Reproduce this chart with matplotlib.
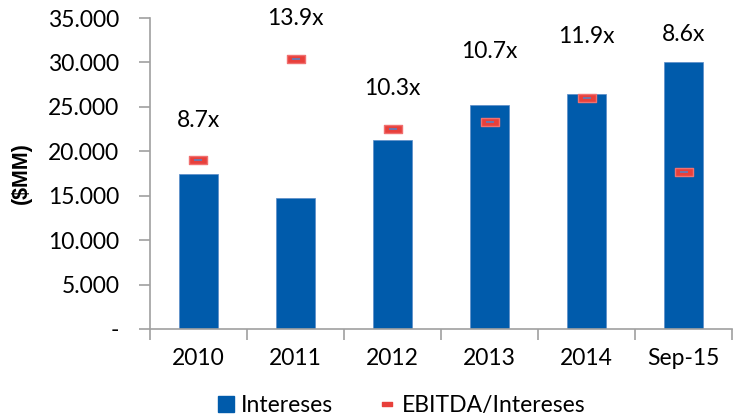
import numpy as np
import matplotlib.pyplot as plt
from matplotlib.ticker import FuncFormatter
from matplotlib.path import Path

plt.rcParams['font.family'] = ['Lato', 'DejaVu Sans']

periods = ['2010', '2011', '2012', '2013', '2014', 'Sep-15']
intereses = [17440, 14740, 21270, 25200, 26450, 30050]
ebitda_ratio = [8.7, 13.9, 10.3, 10.65, 11.9, 8.08]
ratio_labels = ['8.7x', '13.9x', '10.3x', '10.7x', '11.9x', '8.6x']
label_y = [23500, 35000, 27100, 31200, 32900, 33100]

bar_color = '#005BAB'
red = '#E8403B'
fs = 16.5

fig = plt.figure(figsize=(7.37, 4.2), dpi=100)
ax = fig.add_axes([0.2035, 0.2167, 0.79, 0.7403])
x = np.arange(len(periods))

ax.bar(x, intereses, width=0.4, color=bar_color, edgecolor='#5A8CC8', linewidth=0.5,
       label='Intereses', zorder=2)
ax.set_xlim(-0.5, len(periods) - 0.5)
ax.set_ylim(0, 35000)
ax.set_yticks(np.arange(0, 35001, 5000))
ax.yaxis.set_major_formatter(FuncFormatter(
    lambda v, p: '-' if v == 0 else f'{int(v):,}'.replace(',', '.')))
ax.set_xticks(x)
ax.set_xticklabels(periods)
ax.set_xticks(np.arange(-0.5, len(periods), 1), minor=True)
ax.tick_params(axis='x', which='major', length=0, pad=14, labelsize=fs)
ax.tick_params(axis='x', which='minor', length=8, color='#A0A0A0', width=1.2)
ax.tick_params(axis='y', length=8, color='#A0A0A0', width=1.2, labelsize=fs, pad=14)
for s in ['top', 'right']:
    ax.spines[s].set_visible(False)
for s in ['left', 'bottom']:
    ax.spines[s].set_color('#A0A0A0')
    ax.spines[s].set_linewidth(1.2)
ax.set_ylabel('($MM)', fontsize=15.5, fontweight='bold', family='Liberation Sans',
              labelpad=12)

# secondary scale for the ratio markers (hidden)
ax2 = ax.twinx()
ax2.set_ylim(0, 16)
ax2.axis('off')
rect = Path([(-1, -0.45), (1, -0.45), (1, 0.45), (-1, 0.45), (-1, -0.45)],
            [Path.MOVETO, Path.LINETO, Path.LINETO, Path.LINETO, Path.CLOSEPOLY])
ax2.plot(x, ebitda_ratio, linestyle='none', marker=rect, markersize=12.5,
         markerfacecolor=red, markeredgecolor='#F07070', markeredgewidth=1,
         zorder=3)
ax2.plot(x, ebitda_ratio, linestyle='none', marker='_', markersize=6,
         markeredgecolor='#5B7FC0', markeredgewidth=1.2, zorder=4)

for xi, lab, ly in zip(x, ratio_labels, label_y):
    ax.text(xi, ly, lab, ha='center', va='center', fontsize=fs, zorder=5)

h1 = plt.Rectangle((0, 0), 1, 1, color=bar_color)
h2 = plt.Line2D([], [], linestyle='none', marker=rect, markersize=7,
                markerfacecolor=red, markeredgecolor=red)
fig.legend([h1, h2], ['Intereses', 'EBITDA/Intereses'], loc='lower center',
           bbox_to_anchor=(0.545, -0.04), ncol=2, frameon=False, fontsize=fs,
           handlelength=0.7, handleheight=0.7, handletextpad=0.3, columnspacing=2.0)

fig.savefig('out.png', dpi=100)
